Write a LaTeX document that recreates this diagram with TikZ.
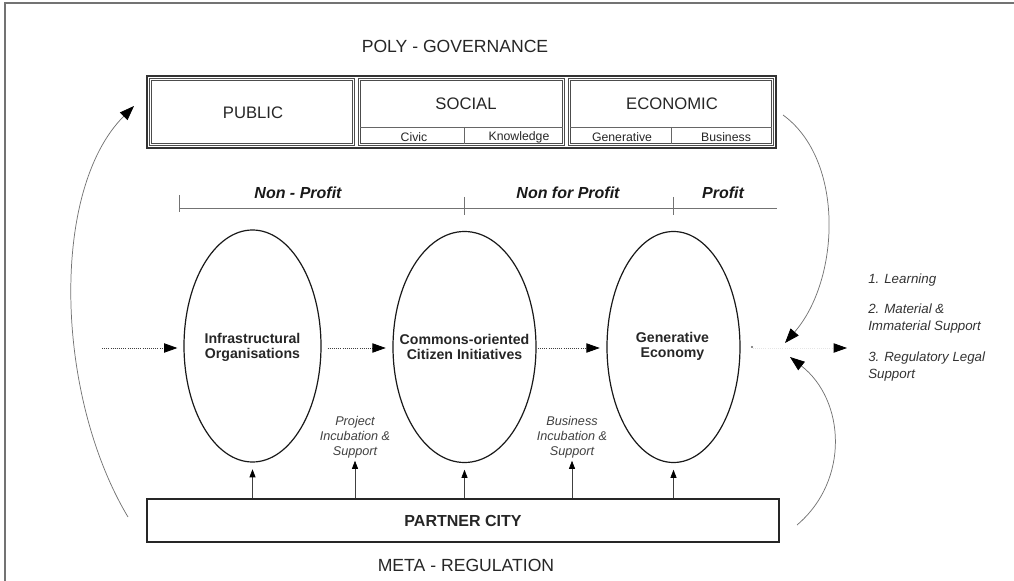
\documentclass[tikz,border=0pt]{standalone}
\usepackage{fontspec}
\setmainfont{Liberation Sans}
\usetikzlibrary{arrows.meta,shapes.geometric}
\begin{document}
\begin{tikzpicture}[x=0.75pt,y=-0.75pt,
  big/.style={font=\fontsize{13.2}{15}\selectfont, text=black!85, inner sep=0pt},
  celltxt/.style={font=\fontsize{12.5}{14}\selectfont, text=black!85, inner sep=0pt},
  cellbox/.style={draw=black!70, double=white, double distance=1.1pt, line width=0.45pt, inner sep=0pt},
  small/.style={font=\fontsize{9.2}{10}\selectfont, text=black!85, inner sep=0pt},
  sector/.style={font=\bfseries\itshape\fontsize{12}{14}\selectfont, text=black!90, inner sep=0pt},
  oval/.style={ellipse, draw=black!90, line width=0.9pt, inner sep=0pt},
  ovaltxt/.style={align=center, inner sep=0pt, font=\bfseries\fontsize{10.6}{11.3}\selectfont, text=black!85},
  flow/.style={densely dotted, line width=0.6pt, black!75, -{Triangle[length=10pt,width=7pt,color=black]}},
  upar/.style={line width=0.5pt, black!75, -{Triangle[length=6pt,width=4.5pt,color=black]}},
  incub/.style={font=\itshape\fontsize{9.5}{11.2}\selectfont, text=black!75, align=center, inner sep=0pt},
  curvearrow/.style={line width=0.55pt, black!55, -{Triangle[length=11pt,width=8pt,color=black]}},
  listtxt/.style={font=\itshape\fontsize{10}{12.6}\selectfont, text=black!80, align=left, anchor=west, inner sep=0pt}]
\useasboundingbox (0,0) rectangle (1014,581);
% page frame
\draw[black!55, line width=1.2pt] (5,581) -- (5,3) -- (1014,3);

% titles
\node[big] (poly) at (455,46) {POLY - GOVERNANCE};
\node[big] (meta) at (466,565) {META - REGULATION};

% governance box
\node[draw=black!80, line width=1.1pt, minimum width={629*0.75pt}, minimum height={72*0.75pt}, inner sep=0pt] (gov) at (461.5,112) {};
\node[cellbox, minimum width={203*0.75pt}, minimum height={65*0.75pt}] (pub) at (252,112) {};
\node[cellbox, minimum width={204*0.75pt}, minimum height={65*0.75pt}] (soc) at (461.5,112) {};
\node[cellbox, minimum width={203*0.75pt}, minimum height={65*0.75pt}] (eco) at (671,112) {};
\draw[black!60, line width=0.5pt] (360,127) -- (563,127) (464,127) -- (464,144);
\draw[black!60, line width=0.5pt] (570,127) -- (772,127) (671,127) -- (671,144);
\node[celltxt] (tpub) at (253,113) {PUBLIC};
\node[celltxt] (tsoc) at (466,104) {SOCIAL};
\node[celltxt] (teco) at (672,104) {ECONOMIC};
\node[small] (civ) at (414,137) {Civic};
\node[small] (kno) at (519,137) {Knowledge};
\node[small] (gnr) at (622,137) {Generative};
\node[small] (bus) at (726,137) {Business};

% profit scale
\draw[black!55, line width=0.7pt] (179,208) -- (777,208);
\draw[black!55, line width=0.7pt] (179,195) -- (179,212) (464,197) -- (464,215) (673,197) -- (673,215);
\node[sector] (np) at (298,193) {Non - Profit};
\node[sector] (nfp) at (568,193) {Non for Profit};
\node[sector] (pr) at (723,193) {Profit};

% ellipses
\node[oval, minimum width={137*0.75pt}, minimum height={232*0.75pt}] (inf) at (252.5,346) {};
\node[oval, minimum width={143*0.75pt}, minimum height={231*0.75pt}] (com) at (464.5,347) {};
\node[oval, minimum width={133*0.75pt}, minimum height={231*0.75pt}] (gen) at (673.5,347) {};
\node[ovaltxt] (tinf) at (252.5,347) {Infrastructural\\Organisations};
\node[ovaltxt] (tcom) at (464.5,347) {Commons-oriented\\Citizen Initiatives};
\node[ovaltxt] (tgen) at (672.5,346) {Generative\\Economy};

% horizontal flows
\coordinate (in0) at (102,348);
\coordinate (out0) at (847,348);
\draw[flow, shorten >=4.5pt] (in0) -- (in0 -| inf.west);
\draw[flow, shorten <=4.5pt, shorten >=5pt] (in0 -| inf.east) -- (in0 -| com.west);
\draw[flow, shorten <=1pt, shorten >=5pt] (in0 -| com.east) -- (in0 -| gen.west);
\draw[densely dotted, line width=0.6pt, black!10, -{Triangle[length=10pt,width=7pt,color=black]}, shorten <=9pt] (in0 -| gen.east) -- (out0);
\fill[black!60] (752,347) circle (0.8pt);

% incubation labels
\node[incub] (proj) at (355,437) {Project\\Incubation \&\\Support};
\node[incub] (busi) at (572,437) {Business\\Incubation \&\\Support};

% partner city
\node[draw=black!85, line width=1.1pt, minimum width={632*0.75pt}, minimum height={43*0.75pt}, inner sep=0pt,
  font=\bfseries\fontsize{12}{14}\selectfont, text=black!85] (pc) at (463,520.5) {PARTNER CITY};
\draw[upar, shorten >=5pt] (pc.north -| inf) -- (inf.south);
\draw[upar, shorten >=2pt] (pc.north -| proj) -- (proj.south);
\draw[upar, shorten >=5pt] (pc.north -| com) -- (com.south);
\draw[upar, shorten >=2pt] (pc.north -| busi) -- (busi.south);
\draw[upar, shorten >=5pt] (pc.north -| gen) -- (gen.south);

% curved arrows
\coordinate (lb) at (128,517);
\coordinate (lt) at (134,106);
\draw[curvearrow] (lb) .. controls (55,395) and (50,190) .. (lt);
\coordinate (rt0) at (783,115);
\coordinate (rt1) at (785,343);
\draw[curvearrow] (rt0) .. controls (845,160) and (840,280) .. (rt1);
\coordinate (rb0) at (797,525);
\coordinate (rb1) at (790,357);
\draw[curvearrow] (rb0) .. controls (850,480) and (845,400) .. (rb1);

% support list
\node[listtxt] (l1) at (868,280) {1. Learning};
\node[listtxt] (l2) at (868,318.5) {2. Material \&\\Immaterial Support};
\node[listtxt] (l3) at (868,366.5) {3. Regulatory Legal\\Support};
\end{tikzpicture}
\end{document}
